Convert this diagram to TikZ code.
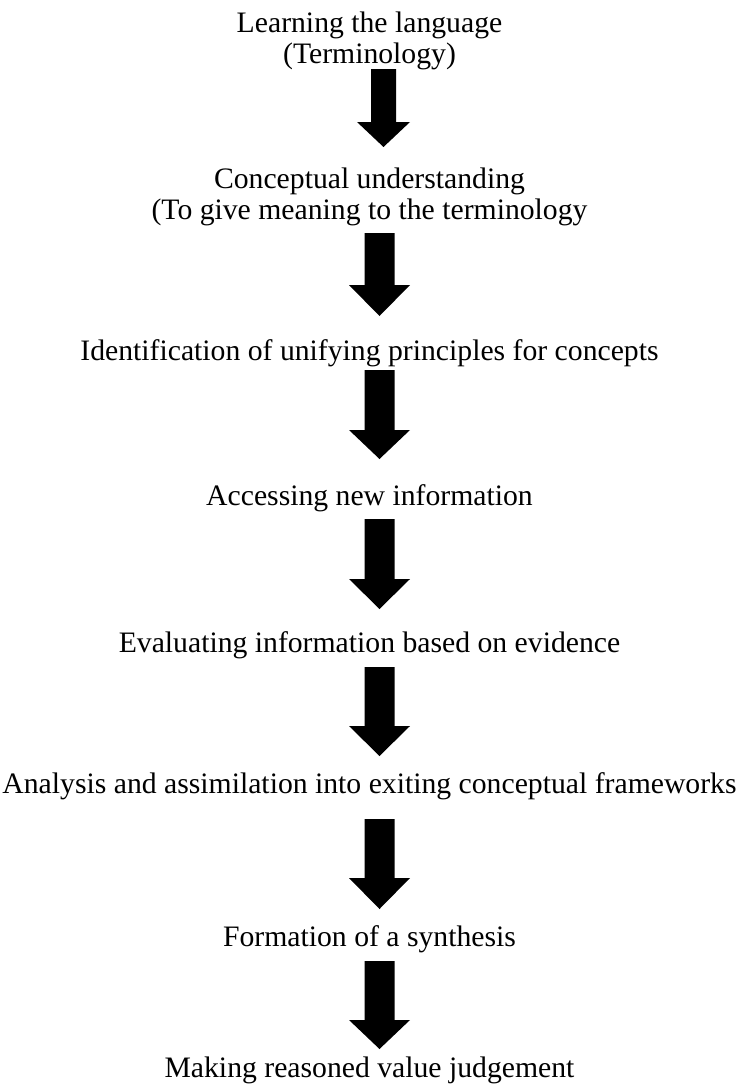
\documentclass[tikz,border=0pt]{standalone}
\usepackage{fontspec}
\setmainfont{Liberation Serif}
\usetikzlibrary{calc}
\tikzset{
  lbl/.style={anchor=base, inner sep=0pt, align=center,
    font=\fontsize{29.7}{31}\selectfont},
}
% #1 top coordinate, #2 tip coordinate, #3 shaft half width, #4 head half width, #5 head length
\newcommand\blockarr[5]{%
  \fill[black] ($(#1)+(-#3,0)$) -- ($(#1)+(#3,0)$) -- ($(#2)+(#3,#5)$) -- ($(#2)+(#4,#5)$)
    -- (#2) -- ($(#2)+(-#4,#5)$) -- ($(#2)+(-#3,#5)$) -- cycle;}
\begin{document}
\begin{tikzpicture}[x=1pt,y=1pt]
\useasboundingbox (0,0) rectangle (739,-1084);
% base anchor of a two-line node is the baseline of its last line
\node[lbl] (t1) at (369.5,-63) {Learning the language\\(Terminology)};
\node[lbl] (t2) at (369.5,-219) {Conceptual understanding\\(To give meaning to the terminology};
\node[lbl] (t3) at (369.5,-360) {Identification of unifying principles for concepts};
\node[lbl] (t4) at (369.5,-505) {Accessing new information};
\node[lbl] (t5) at (369.5,-652) {Evaluating information based on evidence};
\node[lbl] (t6) at (369.5,-793) {Analysis and assimilation into exiting conceptual frameworks};
\node[lbl] (t7) at (369.5,-946) {Formation of a synthesis};
\node[lbl] (t8) at (369.5,-1077) {Making reasoned value judgement};
% arrow end points
\coordinate (a1s) at (383.5,-69);  \coordinate (a1e) at (383.5,-147);
\coordinate (a2s) at (379.5,-233); \coordinate (a2e) at (379.5,-316);
\coordinate (a3s) at (379.5,-370); \coordinate (a3e) at (379.5,-459);
\coordinate (a4s) at (379.5,-519); \coordinate (a4e) at (379.5,-609);
\coordinate (a5s) at (379.5,-667); \coordinate (a5e) at (379.5,-756);
\coordinate (a6s) at (379.5,-819); \coordinate (a6e) at (379.5,-909);
\coordinate (a7s) at (379.5,-961); \coordinate (a7e) at (379.5,-1049);
\blockarr{a1s}{a1e}{12.5}{26.5}{25}
\blockarr{a2s}{a2e}{15}{30.5}{31}
\blockarr{a3s}{a3e}{15}{30.5}{29}
\blockarr{a4s}{a4e}{15}{30.5}{30}
\blockarr{a5s}{a5e}{15}{30.5}{30}
\blockarr{a6s}{a6e}{15}{30.5}{31}
\blockarr{a7s}{a7e}{15}{30.5}{29}
\end{tikzpicture}
\end{document}
